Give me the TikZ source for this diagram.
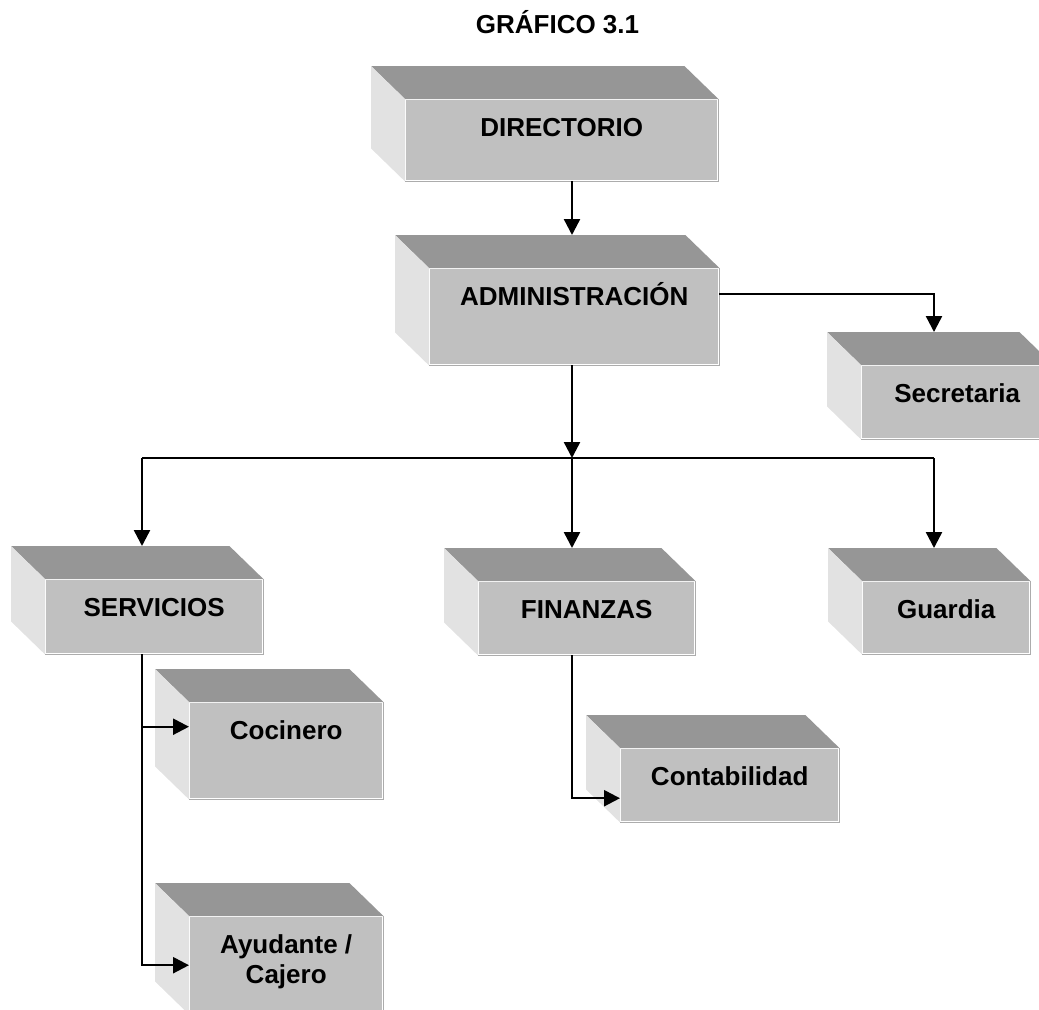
\documentclass[tikz,border=0pt]{standalone}
\usepackage{fontspec}
\setmainfont{Liberation Sans}
\usetikzlibrary{arrows.meta}

\definecolor{frente}{RGB}{192,192,192}
\definecolor{arriba}{RGB}{150,150,150}
\definecolor{lado}{RGB}{226,226,226}
\definecolor{borde}{RGB}{172,172,172}

\tikzset{
  caja/.style={fill=frente, anchor=north west, inner sep=0pt, text height=18.25pt,
    align=center, font=\bfseries\fontsize{13}{15}\selectfont},
  flecha/.style={-{Triangle[length=8pt,width=8pt]}},
}

\begin{document}
\begin{tikzpicture}[x=0.5pt,y=-0.5pt,line width=1.2pt]
\useasboundingbox (0,0) rectangle (1039,1009);

\node[anchor=base, font=\bfseries\fontsize{13}{15}\selectfont] (titulo) at (557.5,33) {GRÁFICO 3.1};

% cajas (cara frontal)
\node[caja, minimum width=155.5pt, text depth=21.75pt] (dir) at (405,99) {DIRECTORIO};
\node[caja, minimum width=144pt, text depth=29.25pt] (adm) at (429,268) {ADMINISTRACIÓN};
\node[caja, minimum width=95pt, text depth=17.75pt] (sec) at (861,365) {Secretaria};
\node[caja, minimum width=108pt, text depth=18.25pt] (serv) at (45,579) {SERVICIOS};
\node[caja, minimum width=107.5pt, text depth=17.75pt] (fin) at (478,581) {FINANZAS};
\node[caja, minimum width=83pt, text depth=17.25pt] (gua) at (862,581) {Guardia};
\node[caja, minimum width=96pt, text depth=29.25pt] (coc) at (189,702) {Cocinero};
\node[caja, minimum width=108.5pt, text depth=17.75pt] (cont) at (620,748) {Contabilidad};
\node[caja, minimum width=96pt, text height=33.25pt, text depth=14.75pt] (ayu) at (189,916) {Ayudante /\\Cajero};

% caras superior e izquierda
\foreach \n in {dir,adm,sec,serv,fin,gua,coc,cont,ayu}{
  \fill[arriba] (\n.north west) -- ++(-17pt,16.5pt) -- ([shift={(-17pt,16.5pt)}]\n.north east) -- (\n.north east) -- cycle;
  \fill[lado] (\n.north west) -- ++(-17pt,16.5pt) -- ([shift={(-17pt,16.5pt)}]\n.south west) -- (\n.south west) -- cycle;
  \draw[borde, line width=0.8pt] (\n.south west) -- (\n.south east) -- (\n.north east);
}

% columnas de las lineas
\coordinate (k1) at (142,458);
\coordinate (k2) at (572,458);
\coordinate (k3) at (934,458);

\draw[flecha, shorten >=16.5pt] (dir.south -| k2) -- (adm.north -| k2);
\draw[flecha, shorten >=16.5pt] ([yshift=6pt]adm.base east) -| (sec.north -| k3);
\draw[flecha] (adm.south -| k2) -- (k2);
\draw (k1) -- (k3);
\foreach \k/\n in {k1/serv,k2/fin,k3/gua}
  \draw[flecha, shorten >=16.5pt] (\k) -- (\n.north -| \k);

\draw[flecha] (serv.south -| k1) |- (ayu.west);
\draw[flecha] ([yshift=12pt]coc.west -| k1) -- ([yshift=12pt]coc.west);
\draw[flecha] (fin.south -| k2) |- ([yshift=-6.5pt]cont.west);
\end{tikzpicture}
\end{document}
